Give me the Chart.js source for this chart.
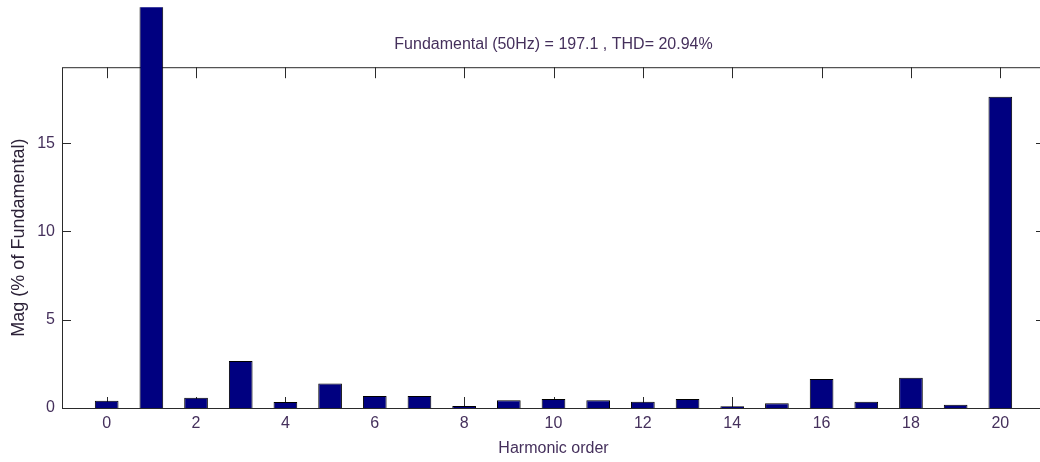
<!DOCTYPE html>
<html>
<head>
<meta charset="utf-8">
<script src="https://cdn.jsdelivr.net/npm/chart.js@4"></script>
<style>
  html, body { margin: 0; padding: 0; background: #fff; overflow: hidden; }
  #wrap { position: relative; width: 1045px; height: 462px; }
</style>
</head>
<body>
<div id="wrap"><canvas id="fftChart"></canvas></div>
<script>
// DATA
const harmonicOrder = [0, 1, 2, 3, 4, 5, 6, 7, 8, 9, 10, 11, 12, 13, 14, 15, 16, 17, 18, 19, 20];
const magnitude = [0.41, 100, 0.58, 2.66, 0.34, 1.39, 0.68, 0.68, 0.11, 0.44, 0.51,
                   0.44, 0.36, 0.51, 0.10, 0.27, 1.64, 0.36, 1.72, 0.19, 17.62];
const xTicks = [0, 2, 4, 6, 8, 10, 12, 14, 16, 18, 20];
const yTicks = [0, 5, 10, 15];
const titleText = "Fundamental (50Hz) = 197.1 , THD= 20.94%";

const FONT = '"Liberation Sans", Arial, sans-serif';
const TEXT = "#45305c";

// AXES BOX + INWARD TICKS (matlab style)
const axesBox = {
  id: "axesBox",
  beforeDatasetsDraw(chart) {
    const { ctx, chartArea: a, scales } = chart;
    ctx.save();
    ctx.strokeStyle = "#2a2a2a";
    ctx.lineWidth = 1;
    ctx.strokeRect(a.left + 0.5, a.top + 0.5, a.right - a.left, a.bottom - a.top);
    ctx.beginPath();
    scales.x.ticks.forEach(t => {
      const px = Math.round(scales.x.getPixelForValue(t.value)) + 0.5;
      ctx.moveTo(px, a.bottom); ctx.lineTo(px, a.bottom - 11);
      ctx.moveTo(px, a.top); ctx.lineTo(px, a.top + 11);
    });
    scales.y.ticks.forEach(t => {
      const py = Math.round(scales.y.getPixelForValue(t.value)) + 0.5;
      ctx.moveTo(a.left, py); ctx.lineTo(a.left + 9, py);
      ctx.moveTo(a.right, py); ctx.lineTo(a.right - 9, py);
    });
    ctx.stroke();
    ctx.restore();
  }
};

new Chart(document.getElementById("fftChart"), {
  type: "bar",
  data: {
    datasets: [{
      data: harmonicOrder.map((h, i) => ({ x: h, y: magnitude[i] })),
      backgroundColor: "#000080",
      borderColor: "#000000",
      borderWidth: 1,
      categoryPercentage: 1,
      barPercentage: 0.53,
      clip: { left: false, top: 60, right: false, bottom: false }
    }]
  },
  options: {
    responsive: true,
    maintainAspectRatio: false,
    animation: false,
    layout: { padding: 0 },
    plugins: {
      legend: { display: false },
      tooltip: { enabled: false },
      title: {
        display: true,
        text: titleText,
        fullSize: false,
        color: TEXT,
        font: { family: FONT, size: 16, weight: "normal", lineHeight: 1.2 },
        padding: { top: 35, bottom: 13 }
      }
    },
    scales: {
      x: {
        type: "linear",
        offset: false,
        min: -1,
        max: 21,
        grid: { display: false, drawTicks: false },
        border: { display: false },
        afterBuildTicks: s => { s.ticks = xTicks.map(v => ({ value: v })); },
        afterFit: s => { s.height = 54; },
        ticks: { color: TEXT, padding: 6, font: { family: FONT, size: 16 } },
        title: {
          display: true,
          text: "Harmonic order",
          color: TEXT,
          font: { family: FONT, size: 16, lineHeight: 1.2 },
          padding: { top: 0, bottom: 4 }
        }
      },
      y: {
        min: 0,
        max: 19.3,
        grid: { display: false, drawTicks: false },
        border: { display: false },
        afterBuildTicks: s => { s.ticks = yTicks.map(v => ({ value: v })); },
        afterFit: s => { s.width = 62; },
        ticks: { color: TEXT, padding: 7, font: { family: FONT, size: 16 } },
        title: {
          display: true,
          text: "Mag (% of Fundamental)",
          color: "#2c2238",
          font: { family: FONT, size: 18, lineHeight: 1.2 },
          padding: { top: 8, bottom: 0 }
        }
      }
    }
  },
  plugins: [axesBox]
});
</script>
</body>
</html>
